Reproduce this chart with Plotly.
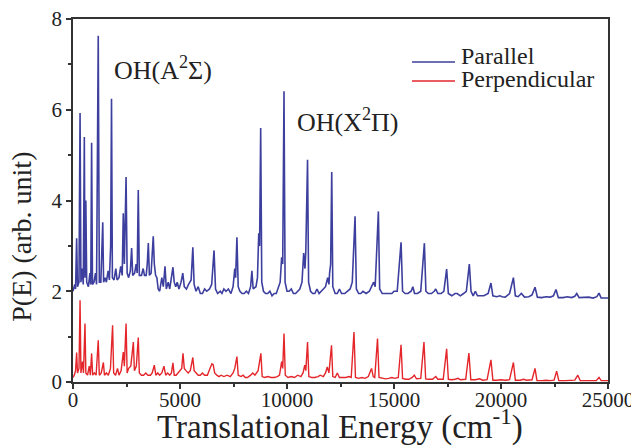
import plotly.graph_objects as go

# Parallel (blue) spectrum: energy (cm-1) and P(E)
par_x = [0, 80, 120, 170, 210, 280, 330, 370, 430, 480, 530, 560, 600, 640, 720, 790, 830, 870, 910, 980,
         1050, 1100, 1180, 1230, 1300, 1390, 1430, 1500, 1560, 1640, 1700, 1760, 1800, 1840, 1920, 2000,
         2060, 2150, 2230, 2300, 2350, 2400, 2480, 2530, 2600, 2680, 2740, 2790, 2880, 2950, 3000, 3050,
         3100, 3200, 3280, 3340, 3420, 3470, 3520, 3570, 3650, 3750, 3800, 3860, 3920, 3980, 4050, 4150,
         4220, 4300, 4360, 4450, 4520, 4600, 4670, 4730, 4800, 4870, 4950, 5050, 5130, 5200, 5300, 5400,
         5520, 5600, 5660, 5750, 5850, 5950, 6050, 6150, 6250, 6380, 6480, 6590, 6660, 6760, 6880, 6960,
         7050, 7150, 7260, 7380, 7480, 7560, 7600, 7660, 7720, 7800, 7900, 8000, 8100, 8200, 8300, 8360,
         8420, 8550, 8620, 8680, 8720, 8770, 8820, 8900, 9000, 9100, 9200, 9300, 9400, 9500, 9600, 9680,
         9750, 9800, 9860, 9910, 10000, 10100, 10200, 10300, 10400, 10500, 10600, 10700, 10780, 10840,
         10880, 10960, 11010, 11100, 11200, 11300, 11400, 11500, 11600, 11700, 11800, 11900, 11960, 11990,
         12040, 12090, 12140, 12250, 12350, 12450, 12550, 12700, 12850, 12950, 13050, 13180, 13240, 13350,
         13450, 13550, 13700, 13850, 13950, 14050, 14120, 14270, 14330, 14450, 14600, 14750, 14900, 15000,
         15150, 15330, 15400, 15520, 15650, 15800, 15880, 15960, 16100, 16250, 16420, 16490, 16600, 16750,
         16880, 16950, 17050, 17200, 17330, 17460, 17540, 17700, 17850, 17950, 18100, 18250, 18380, 18520,
         18600, 18700, 18800, 18900, 19050, 19200, 19400, 19530, 19620, 19800, 19950, 20050, 20200, 20400,
         20580, 20670, 20800, 20950, 21100, 21300, 21450, 21590, 21700, 21900, 22100, 22300, 22450, 22570,
         22680, 22900, 23100, 23300, 23450, 23540, 23650, 23900, 24100, 24300, 24480, 24580, 24680, 24900,
         25000]
par_y = [2.0, 2.15, 2.05, 3.17, 2.1, 2.2, 5.93, 2.2, 2.5, 2.15, 5.4, 2.3, 4.0, 2.2, 2.1, 2.4, 2.15, 5.27, 2.15, 2.2,
         2.4, 2.15, 7.63, 2.2, 2.2, 3.52, 2.2, 2.3, 2.2, 2.45, 2.25, 3.0, 6.24, 2.3, 2.25, 2.5,
         2.25, 2.3, 2.55, 2.35, 3.72, 2.6, 4.52, 2.4, 2.3, 2.45, 2.95, 2.35, 2.4, 2.6, 2.4, 4.23,
         2.35, 2.35, 2.5, 2.35, 2.35, 2.6, 3.06, 2.35, 2.4, 3.21, 2.6, 2.35, 2.3, 2.05, 2.0, 2.3,
         2.1, 2.55, 2.05, 2.2, 2.05, 2.3, 2.53, 2.2, 2.1, 2.2, 2.05, 2.2, 2.4, 2.1, 2.05, 2.15,
         2.25, 2.97, 2.15, 2.0, 2.1, 1.95, 1.95, 2.05, 2.0, 2.05, 2.15, 2.9, 2.05, 1.95, 2.0, 1.95,
         2.05, 2.0, 2.05, 1.95, 2.1, 2.5, 2.3, 3.19, 2.1, 2.0, 1.95, 1.95, 2.0, 1.95, 2.1, 2.45,
         2.05, 2.1, 2.3, 3.28, 3.0, 5.6, 2.2, 2.0, 1.95, 1.95, 2.0, 1.9, 1.95, 1.95, 2.1, 2.2,
         2.75, 2.6, 6.41, 2.2, 2.0, 2.0, 2.05, 1.95, 1.95, 2.0, 2.05, 2.2, 2.84, 2.5,
         2.9, 4.9, 2.2, 2.0, 1.95, 1.95, 2.05, 1.95, 2.0, 2.05, 2.1, 2.3, 2.15, 2.4,
         2.6, 4.63, 2.1, 1.95, 1.95, 2.05, 1.95, 1.95, 2.0, 2.05, 2.2, 3.65, 2.05, 1.95,
         1.95, 2.0, 1.95, 2.0, 2.1, 2.2, 2.1, 3.76, 2.05, 1.95, 1.95, 1.95, 1.95, 2.0,
         2.0, 3.08, 2.0, 1.95, 1.95, 2.0, 2.1, 1.95, 1.95, 2.0, 3.06, 2.0, 1.95, 1.95,
         2.0, 2.05, 1.95, 1.95, 2.0, 2.49, 1.95, 1.9, 1.95, 1.95, 1.9, 1.95, 2.0, 2.6,
         2.0, 1.9, 2.0, 1.9, 1.9, 1.9, 1.95, 2.18, 1.9, 1.88, 1.9, 1.88, 1.87, 1.95,
         2.3, 1.9, 1.88, 1.95, 1.87, 1.88, 1.92, 2.09, 1.87, 1.86, 1.88, 1.87, 1.9, 2.04,
         1.86, 1.86, 1.88, 1.86, 1.89, 1.95, 1.86, 1.86, 1.87, 1.85, 1.88, 1.96, 1.85, 1.85,
         1.85]

# Perpendicular (red) spectrum
perp_x = [0, 60, 120, 170, 210, 280, 330, 370, 440, 490, 560, 600, 680, 760, 810, 870, 920, 1000, 1080, 1180,
          1230, 1320, 1420, 1470, 1560, 1650, 1750, 1850, 1900, 1990, 2080, 2150, 2250, 2350, 2400, 2480,
          2530, 2600, 2700, 2820, 2870, 2960, 3050, 3100, 3200, 3300, 3400, 3500, 3620, 3700, 3800, 3870,
          3960, 4050, 4150, 4250, 4330, 4420, 4520, 4600, 4670, 4730, 4820, 4900, 5000, 5080, 5140, 5200,
          5280, 5380, 5480, 5600, 5660, 5750, 5850, 5950, 6050, 6150, 6280, 6400, 6490, 6550, 6620, 6720,
          6820, 6920, 7050, 7200, 7350, 7480, 7560, 7660, 7720, 7850, 7950, 8050, 8150, 8300, 8400, 8500,
          8650, 8780, 8840, 8950, 9100, 9250, 9400, 9550, 9650, 9750, 9800, 9860, 9920, 10050, 10200,
          10350, 10500, 10650, 10750, 10830, 10880, 10960, 11020, 11150, 11300, 11450, 11550, 11700, 11800,
          11880, 11960, 12080, 12140, 12250, 12350, 12450, 12600, 12750, 12900, 13000, 13130, 13200, 13350,
          13500, 13650, 13800, 13950, 14030, 14100, 14230, 14300, 14450, 14600, 14750, 14900, 15050, 15200,
          15330, 15400, 15550, 15700, 15850, 15950, 16050, 16250, 16400, 16480, 16600, 16800, 16950, 17050,
          17300, 17460, 17540, 17700, 17850, 18000, 18100, 18350, 18500, 18590, 18800, 19000, 19150, 19350,
          19530, 19620, 19800, 20000, 20200, 20400, 20580, 20670, 20900, 21050, 21200, 21450, 21590, 21680,
          21900, 22100, 22300, 22480, 22600, 22700, 23000, 23200, 23450, 23590, 23700, 24000, 24200, 24450,
          24580, 24680, 25000]
perp_y = [0.1, 0.15, 0.25, 0.65, 0.2, 0.3, 1.8, 0.2, 0.45, 0.2, 1.29, 0.2, 0.15, 0.35, 0.15, 0.63, 0.15, 0.2, 0.15, 0.92,
          0.15, 0.2, 0.43, 0.15, 0.2, 0.15, 0.3, 1.25, 0.2, 0.15, 0.3, 0.15, 0.25, 0.66, 0.35, 1.29,
          0.2, 0.3, 0.35, 0.88, 0.25, 0.35, 0.98, 0.2, 0.15, 0.15, 0.2, 0.15, 0.15, 0.2, 0.37, 0.15,
          0.2, 0.15, 0.2, 0.35, 0.15, 0.2, 0.15, 0.2, 0.42, 0.15, 0.15, 0.2, 0.25, 0.3, 0.63, 0.3,
          0.25, 0.2, 0.25, 0.54, 0.25, 0.2, 0.15, 0.15, 0.2, 0.15, 0.15, 0.3, 0.4, 0.38, 0.2, 0.15,
          0.12, 0.15, 0.12, 0.15, 0.12, 0.2, 0.3, 0.56, 0.15, 0.12, 0.15, 0.1, 0.1, 0.15, 0.2, 0.15,
          0.25, 0.63, 0.12, 0.1, 0.12, 0.1, 0.1, 0.12, 0.15, 0.45, 0.3, 1.07, 0.15, 0.1, 0.12,
          0.1, 0.15, 0.12, 0.2, 0.37, 0.25, 0.88, 0.12, 0.1, 0.1, 0.12, 0.15, 0.12, 0.2,
          0.33, 0.2, 0.81, 0.12, 0.1, 0.2, 0.1, 0.1, 0.1, 0.12, 0.1, 1.1, 0.1, 0.08,
          0.1, 0.08, 0.12, 0.3, 0.12, 0.1, 0.96, 0.1, 0.08, 0.07, 0.08, 0.1, 0.08, 0.1,
          0.82, 0.08, 0.06, 0.06, 0.1, 0.15, 0.07, 0.08, 0.88, 0.07, 0.06, 0.06, 0.12, 0.06,
          0.06, 0.73, 0.06, 0.05, 0.06, 0.08, 0.05, 0.06, 0.64, 0.05, 0.05, 0.07, 0.04, 0.05,
          0.49, 0.04, 0.04, 0.05, 0.04, 0.05, 0.43, 0.04, 0.04, 0.06, 0.04, 0.05, 0.3, 0.03,
          0.03, 0.04, 0.03, 0.04, 0.24, 0.03, 0.03, 0.03, 0.04, 0.15, 0.03, 0.03, 0.03, 0.03,
          0.1, 0.03, 0.03]

x_ticks = [0, 5000, 10000, 15000, 20000, 25000]
y_ticks = [0, 2, 4, 6, 8]
series_names = ["Parallel", "Perpendicular"]
series_colors = ["#3d3f9e", "#e4262b"]

FONT = "Liberation Serif"
TXT = "#222222"

fig = go.Figure()
fig.add_trace(go.Scatter(x=par_x, y=par_y, mode="lines", name=series_names[0], showlegend=False,
                         line=dict(color=series_colors[0], width=1.6)))
fig.add_trace(go.Scatter(x=perp_x, y=perp_y, mode="lines", name=series_names[1], showlegend=False,
                         line=dict(color=series_colors[1], width=1.4)))

axis_common = dict(showline=True, linecolor="#333333", linewidth=1.5, mirror=True,
                   ticks="outside", ticklen=5, tickwidth=1.5, tickcolor="#333333",
                   showgrid=False, zeroline=False, ticklabeloverflow="allow", automargin=False,
                   tickfont=dict(family=FONT, size=21, color=TXT))

fig.update_layout(
    width=631, height=448,
    margin=dict(l=73, r=23, t=19, b=66),
    paper_bgcolor="white", plot_bgcolor="white",
    font=dict(family=FONT, color=TXT),
    xaxis=dict(range=[0, 25000], tickvals=x_ticks, ticktext=[str(v) for v in x_ticks],
               minor=dict(ticks="outside", ticklen=3, dtick=2500, tickcolor="#333333"),
               ticklabelstandoff=-7,
               **axis_common),
    yaxis=dict(range=[0, 8], tickvals=y_ticks, ticktext=[str(v) for v in y_ticks],
               minor=dict(ticks="outside", ticklen=3, dtick=1, tickcolor="#333333"),
               **axis_common),
    showlegend=False,
)

# axis titles
fig.add_annotation(x=0.499, y=-0.182, xref="paper", yref="paper", xanchor="center", yanchor="bottom",
                   text="Translational Energy (cm<sup>-1</sup>)", showarrow=False,
                   font=dict(family=FONT, size=33, color=TXT))
fig.add_annotation(x=-0.0953, y=0.40, xref="paper", yref="paper", xanchor="center", yanchor="middle",
                   text="P(E) (arb. unit)", textangle=-90, showarrow=False,
                   font=dict(family=FONT, size=28, color=TXT))

# legend drawn as shapes + text (line samples and labels)
leg_line_y = [0.8815, 0.8292]
leg_text_y = [0.897, 0.834]
for name, color, ly, ty in zip(series_names, series_colors, leg_line_y, leg_text_y):
    fig.add_shape(type="line", xref="paper", yref="paper", x0=0.6336, x1=0.714, y0=ly, y1=ly,
                  line=dict(color=color, width=1.6))
    fig.add_annotation(x=0.7215, y=ty, xref="paper", yref="paper", text=name, showarrow=False,
                       xanchor="left", yanchor="middle", font=dict(family=FONT, size=24, color=TXT))

fig.add_annotation(x=4200, y=6.9, xref="x", yref="y", text="OH(A<sup>2</sup>Σ)", showarrow=False,
                   font=dict(family=FONT, size=26, color=TXT))
fig.add_annotation(x=12850, y=5.77, xref="x", yref="y", text="OH(X<sup>2</sup>Π)", showarrow=False,
                   font=dict(family=FONT, size=26, color=TXT))

fig.write_html("out.html")
